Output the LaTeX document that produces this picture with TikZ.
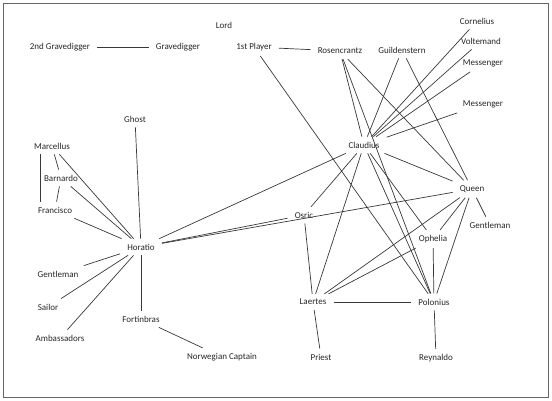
\documentclass[tikz,border=0pt]{standalone}
\usepackage{fontspec}
\setmainfont{Carlito}

\begin{document}
\begin{tikzpicture}[x=1pt, y=-1pt,
  person/.style={inner xsep=7pt, inner ysep=5pt,
                 font=\fontsize{9}{10}\selectfont, text=black!85},
  tie/.style={draw=black!78, line width=0.7pt}
]
\useasboundingbox (0,0) rectangle (552,401);
\draw[black!60, line width=0.8pt] (3.5,3.5) rectangle (548,397);

%% ---- TOP ROW ----
\node[person] (lord)   at (224, 25)  {Lord};
\node[person] (gdtwo)  at (60, 47)   {2nd Gravedigger};
\node[person] (gd)     at (178, 47)  {Gravedigger};
\node[person] (player) at (254, 47)  {1st Player};
\node[person] (rosen)  at (340, 51)  {Rosencrantz};
\node[person] (guild)  at (402, 50)  {Guildenstern};
\node[person] (cornel) at (477, 21)  {Cornelius};
\node[person] (volte)  at (481, 41)  {Voltemand};
\node[person] (messa)  at (483, 63)  {Messenger};
\node[person] (messb)  at (483, 104) {Messenger};

%% ---- COURT ----
\node[person] (claud)  at (364, 145) {Claudius};
\node[person] (queen)  at (472, 189) {Queen};
\node[person] (gentr)  at (490, 225) {Gentleman};
\node[person] (osric)  at (304, 215) {Osric};
\node[person] (ophel)  at (433, 239) {Ophelia};
\node[person] (laertes) at (313, 302) {Laertes};
\node[person] (polon)  at (434, 302) {Polonius};
\node[person] (priest) at (321, 357) {Priest};
\node[person] (reyn)   at (436, 358) {Reynaldo};

%% ---- HORATIO GROUP ----
\node[person] (ghost)  at (135, 119) {Ghost};
\node[person] (marcel) at (52, 146)  {Marcellus};
\node[person] (barn)   at (61, 178)  {Barnardo};
\node[person] (franc)  at (55, 210)  {Francisco};
\node[person] (horat)  at (141, 247) {Horatio};
\node[person] (gentl)  at (58, 274)  {Gentleman};
\node[person] (sailor) at (48, 307)  {Sailor};
\node[person] (ambas)  at (60, 338)  {Ambassadors};
\node[person] (fortin) at (141, 319) {Fortinbras};
\node[person] (captain) at (222, 357) {Norwegian Captain};

%% ---- TIES ----
\draw[tie] (gdtwo) -- (gd);
\draw[tie] (player) -- (rosen);
\draw[tie] (player) -- (polon);
\draw[tie] (rosen) -- (claud);
\draw[tie] (rosen) -- (polon);
\draw[tie] (rosen) -- (queen);
\draw[tie] (guild) -- (claud);
\draw[tie] (guild) -- (queen);
\draw[tie] (cornel) -- (claud);
\draw[tie] (volte) -- (claud);
\draw[tie] (messa) -- (claud);
\draw[tie] (messb) -- (claud);
\draw[tie] (claud) -- (queen);
\draw[tie] (claud) -- (osric);
\draw[tie] (claud) -- (laertes);
\draw[tie] (claud) -- (polon);
\draw[tie] (claud) -- (ophel);
\draw[tie] (claud) -- (horat);
\draw[tie] (queen) -- (horat);
\draw[tie] (queen) -- (gentr);
\draw[tie] (queen) -- (ophel);
\draw[tie] (queen) -- (laertes);
\draw[tie] (queen) -- (polon);
\draw[tie] (osric) -- (horat);
\draw[tie] (osric) -- (laertes);
\draw[tie] (ophel) -- (laertes);
\draw[tie] (ophel) -- (polon);
\draw[tie] (laertes) -- (polon);
\draw[tie] (laertes) -- (priest);
\draw[tie] (polon) -- (reyn);

\draw[tie] (ghost) -- (horat);
\draw[tie] (marcel) -- (barn);
\draw[tie] ([xshift=-12pt]marcel.south) -- ([xshift=-15pt]franc.north);
\draw[tie] (marcel) -- (horat);
\draw[tie] (barn) -- (franc);
\draw[tie] (barn) -- (horat);
\draw[tie] (franc) -- (horat);
\draw[tie] (horat) -- (gentl);
\draw[tie] (horat) -- (sailor);
\draw[tie] (horat) -- (ambas);
\draw[tie] (horat) -- (fortin);
\draw[tie] (fortin) -- (captain);

\end{tikzpicture}
\end{document}
